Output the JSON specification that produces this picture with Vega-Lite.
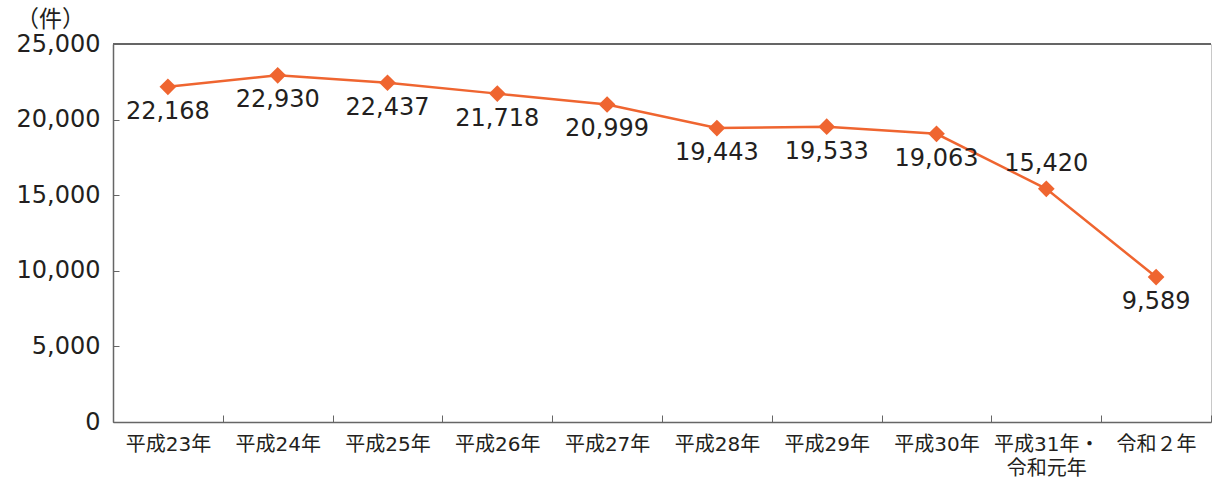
{
  "$schema": "https://vega.github.io/schema/vega-lite/v6.json",
  "width": 1098,
  "height": 378,
  "autosize": {"type": "none"},
  "padding": {"left": 113, "top": 44, "right": 1, "bottom": 63},
  "background": "white",
  "config": {
    "font": "DejaVu Sans, Noto Sans CJK JP",
    "view": {"stroke": "#c8c8c8", "strokeWidth": 1}
  },
  "data": {
    "values": [
      {"year": "平成23年", "count": 22168, "pos": "below"},
      {"year": "平成24年", "count": 22930, "pos": "below"},
      {"year": "平成25年", "count": 22437, "pos": "below"},
      {"year": "平成26年", "count": 21718, "pos": "below"},
      {"year": "平成27年", "count": 20999, "pos": "below"},
      {"year": "平成28年", "count": 19443, "pos": "below"},
      {"year": "平成29年", "count": 19533, "pos": "below"},
      {"year": "平成30年", "count": 19063, "pos": "below"},
      {"year": "平成31年・|令和元年", "count": 15420, "pos": "above"},
      {"year": "令和２年", "count": 9589, "pos": "below"}
    ]
  },
  "encoding": {
    "x": {
      "field": "year",
      "type": "nominal",
      "sort": null,
      "scale": {"paddingInner": 0, "paddingOuter": 0},
      "axis": {
        "title": null,
        "labelAngle": 0,
        "labelExpr": "isString(datum.value) ? split(datum.value, '|') : ''",
        "labelFontSize": 20,
        "labelColor": "#231f20",
        "labelPadding": 19,
        "labelLineHeight": 24,
        "tickBand": "extent",
        "tickSize": -7,
        "tickColor": "#666666",
        "domainColor": "#666666",
        "domainWidth": 1.5
      }
    },
    "y": {
      "field": "count",
      "type": "quantitative",
      "scale": {"domain": [0, 25000], "nice": false},
      "axis": {
        "values": [0, 5000, 10000, 15000, 20000, 25000],
        "format": ",d",
        "grid": false,
        "title": "（件）",
        "titleAngle": 0,
        "titleAlign": "center",
        "titleBaseline": "middle",
        "titleX": -63,
        "titleY": -25,
        "titleFontSize": 23,
        "titleFontWeight": "normal",
        "titleColor": "#231f20",
        "labelFontSize": 24,
        "labelColor": "#231f20",
        "labelPadding": 19,
        "tickSize": -6,
        "tickColor": "#666666",
        "domainColor": "#666666",
        "domainWidth": 1.5
      }
    }
  },
  "layer": [
    {
      "mark": {"type": "rule", "color": "#666666", "strokeWidth": 1.5},
      "encoding": {"x": {"value": 0}, "x2": {"value": 1098}, "y": {"datum": 25000}}
    },
    {
      "mark": {"type": "line", "color": "#ef6530", "strokeWidth": 2.5}
    },
    {
      "mark": {"type": "point", "shape": "diamond", "filled": true, "color": "#ef6530", "size": 280, "opacity": 1}
    },
    {
      "transform": [{"filter": "datum.pos === 'below'"}],
      "mark": {"type": "text", "dy": 25, "fontSize": 24, "color": "#231f20"},
      "encoding": {"text": {"field": "count", "type": "quantitative", "format": ","}}
    },
    {
      "transform": [{"filter": "datum.pos === 'above'"}],
      "mark": {"type": "text", "dy": -25, "fontSize": 24, "color": "#231f20"},
      "encoding": {"text": {"field": "count", "type": "quantitative", "format": ","}}
    }
  ]
}
